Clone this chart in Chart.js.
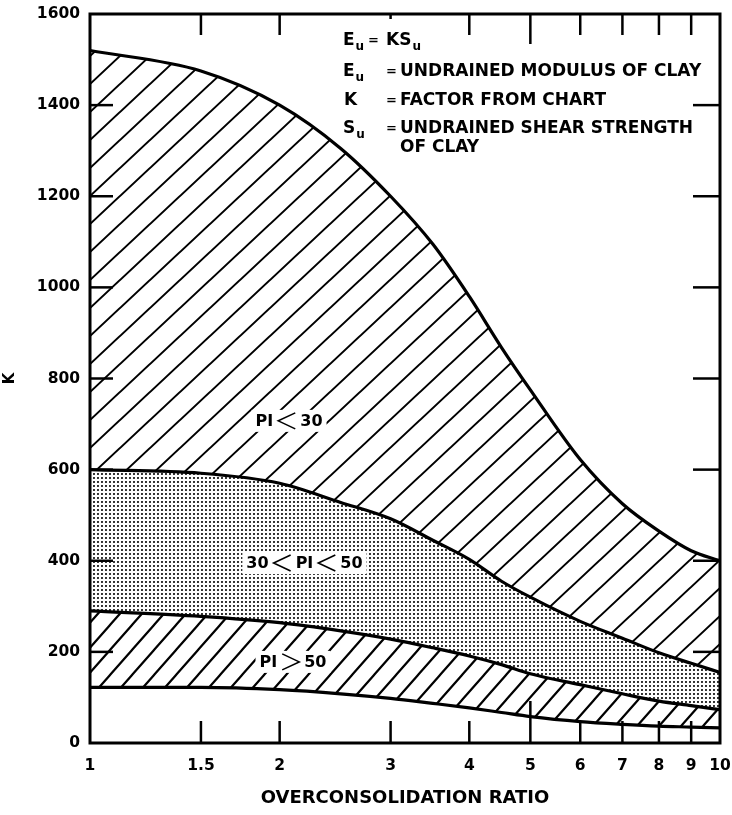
<!DOCTYPE html>
<html>
<head>
<meta charset="utf-8">
<script src="https://cdn.jsdelivr.net/npm/chart.js@4"></script>
<style>
  html, body { margin: 0; padding: 0; background: #fff; }
</style>
</head>
<body>
<canvas id="grafica" width="732" height="815"></canvas>
<script>
// Relación de sobreconsolidación (eje x, logarítmico)
const ocr = [1, 1.5, 2, 2.5, 3, 3.5, 4, 4.5, 5, 6, 7, 8, 9, 10];

// Curvas límite de K para cada franja de índice de plasticidad
const kPI30Sup = [1520, 1475, 1400, 1305, 1200, 1095, 980, 868, 775, 622, 525, 465, 422, 400];
const kPI30Inf = [600, 592, 570, 528, 492, 445, 403, 355, 320, 267, 230, 198, 175, 155];
const kPI50Sup = [290, 278, 264, 246, 228, 209, 191, 172, 152, 128, 108, 92, 82, 73];
const kPI50Inf = [122, 122, 117, 108, 98, 87, 77, 67, 58, 47, 41, 37, 35, 33];

// Marcas de los ejes
const ticksX = [1, 1.5, 2, 3, 4, 5, 6, 7, 8, 9, 10];
const ticksY = [0, 200, 400, 600, 800, 1000, 1200, 1400, 1600];

// Rótulos de cada zona (en unidades de los ejes)
const etiquetasZona = [
  { x: 2.07, y: 707, partes: ['PI', '<', '30'] },
  { x: 2.19, y: 395, partes: ['30', '<', 'PI', '<', '50'] },
  { x: 2.10, y: 178, partes: ['PI', '>', '50'] }
];

const FUENTE = 'DejaVu Sans';

// Tramas: rayado diagonal y punteado
function crearRayado(w, h, grosor) {
  const c = document.createElement('canvas');
  c.width = w; c.height = h;
  const g = c.getContext('2d');
  g.strokeStyle = '#000';
  g.lineWidth = grosor;
  g.beginPath();
  g.moveTo(-w, h); g.lineTo(w, -h);
  g.moveTo(-w, 2 * h); g.lineTo(2 * w, -h);
  g.moveTo(0, 2 * h); g.lineTo(2 * w, 0);
  g.stroke();
  return g.createPattern(c, 'repeat');
}

function crearPunteado(paso, punto) {
  const c = document.createElement('canvas');
  c.width = paso; c.height = paso;
  const g = c.getContext('2d');
  g.fillStyle = '#000';
  g.beginPath();
  g.arc(paso / 2, paso / 2, punto / 2, 0, Math.PI * 2);
  g.fill();
  return g.createPattern(c, 'repeat');
}

const ctx = document.getElementById('grafica').getContext('2d');
const rayadoSup = crearRayado(30, 28, 2);
const rayadoInf = crearRayado(22, 25, 2.2);
const punteado = crearPunteado(4, 2.1);

const puntos = serie => ocr.map((v, i) => ({ x: v, y: serie[i] }));

// Dibuja "PI < 30" con el signo como un ángulo fino
function dibujarEtiqueta(c, cx, cy, partes) {
  c.font = 'bold 16px ' + FUENTE;
  const anchoSigno = 17, sep = 5;
  let total = 0;
  partes.forEach((p, i) => {
    total += (p === '<' || p === '>') ? anchoSigno : c.measureText(p).width;
    if (i < partes.length - 1) total += sep;
  });
  c.fillStyle = '#fff';
  c.fillRect(cx - total / 2 - 4, cy - 11, total + 8, 22);
  let x = cx - total / 2;
  c.fillStyle = '#000';
  c.strokeStyle = '#000';
  c.textBaseline = 'middle';
  c.textAlign = 'left';
  partes.forEach(p => {
    if (p === '<' || p === '>') {
      c.lineWidth = 1.6;
      c.beginPath();
      if (p === '<') {
        c.moveTo(x + anchoSigno, cy - 8); c.lineTo(x, cy); c.lineTo(x + anchoSigno, cy + 8);
      } else {
        c.moveTo(x, cy - 8); c.lineTo(x + anchoSigno, cy); c.lineTo(x, cy + 8);
      }
      c.stroke();
      x += anchoSigno + sep;
    } else {
      c.fillText(p, x, cy + 1);
      x += c.measureText(p).width + sep;
    }
  });
}

// Texto con subíndice "u"
function conSubindice(c, letra, x, base) {
  c.font = 'bold 17px ' + FUENTE;
  c.fillText(letra, x, base);
  const w = c.measureText(letra).width;
  c.font = 'bold 12px ' + FUENTE;
  c.fillText('u', x + w + 1, base + 5);
}

const marcoPlugin = {
  id: 'marco',
  afterDatasetsDraw(chart) {
    const { ctx: c, scales: { x, y } } = chart;
    c.save();
    etiquetasZona.forEach(e => {
      dibujarEtiqueta(c, x.getPixelForValue(e.x), y.getPixelForValue(e.y), e.partes);
    });
    c.restore();
  },
  afterDraw(chart) {
    const { ctx: c, chartArea: a, scales: { x, y } } = chart;
    c.save();
    c.strokeStyle = '#000';
    c.lineWidth = 3;
    c.strokeRect(a.left, a.top, a.right - a.left, a.bottom - a.top);

    // marcas interiores
    c.lineWidth = 2.5;
    const linea = (x1, y1, x2, y2) => { c.beginPath(); c.moveTo(x1, y1); c.lineTo(x2, y2); c.stroke(); };
    ticksX.slice(1, -1).forEach(v => {
      const px = x.getPixelForValue(v);
      linea(px, a.bottom, px, a.bottom - (v === 5 ? 42 : 22));
      linea(px, a.top, px, a.top + (v === 5 ? 30 : v === 3 ? 5 : 21));
    });
    ticksY.slice(1, -1).forEach(v => {
      const py = y.getPixelForValue(v);
      linea(a.left, py, a.left + 23, py);
      linea(a.right, py, a.right - 27, py);
    });

    // leyenda de símbolos
    c.fillStyle = '#000';
    c.textAlign = 'left';
    c.textBaseline = 'alphabetic';
    conSubindice(c, 'E', 343, 45);
    c.font = 'bold 13px ' + FUENTE;
    c.fillText('=', 368, 44);
    conSubindice(c, 'KS', 386, 45);

    conSubindice(c, 'E', 343, 76);
    c.font = 'bold 13px ' + FUENTE;
    c.fillText('=', 386, 75);
    c.font = 'bold 17px ' + FUENTE;
    c.fillText('UNDRAINED MODULUS OF CLAY', 400, 76);

    c.fillText('K', 344, 105);
    c.font = 'bold 13px ' + FUENTE;
    c.fillText('=', 386, 104);
    c.font = 'bold 17px ' + FUENTE;
    c.fillText('FACTOR FROM CHART', 400, 105);

    conSubindice(c, 'S', 343, 133);
    c.font = 'bold 13px ' + FUENTE;
    c.fillText('=', 386, 132);
    c.font = 'bold 17px ' + FUENTE;
    c.fillText('UNDRAINED SHEAR STRENGTH', 400, 133);
    c.fillText('OF CLAY', 400, 152);
    c.restore();
  }
};

const curva = (serie, relleno, fondo) => ({
  data: puntos(serie),
  borderColor: '#000',
  borderWidth: 3.2,
  pointRadius: 0,
  cubicInterpolationMode: 'monotone',
  fill: relleno,
  backgroundColor: fondo
});

const grafica = new Chart(ctx, {
  type: 'line',
  data: {
    datasets: [
      curva(kPI30Sup, '+1', rayadoSup),
      curva(kPI30Inf, '+1', punteado),
      curva(kPI50Sup, '+1', rayadoInf),
      curva(kPI50Inf, false, 'transparent')
    ]
  },
  options: {
    responsive: false,
    animation: false,
    devicePixelRatio: 1,
    layout: { padding: { top: 14, right: 12, left: 0, bottom: 0 } },
    plugins: {
      legend: { display: false },
      tooltip: { enabled: false }
    },
    scales: {
      x: {
        type: 'logarithmic',
        min: 1,
        max: 10,
        grid: { display: false, drawTicks: false },
        border: { display: false },
        afterBuildTicks: s => { s.ticks = ticksX.map(v => ({ value: v })); },
        afterFit: s => { s.height = 72; s.paddingLeft = 0; s.paddingRight = 0; },
        ticks: {
          autoSkip: false,
          maxRotation: 0,
          padding: 14,
          color: '#000',
          font: { family: FUENTE, weight: 'bold', size: 15.5 },
          callback: v => String(v)
        },
        title: {
          display: true,
          text: 'OVERCONSOLIDATION RATIO',
          color: '#000',
          font: { family: FUENTE, weight: 'bold', size: 18 },
          padding: { top: 0, bottom: 6 }
        }
      },
      y: {
        min: 0,
        max: 1600,
        grid: { display: false, drawTicks: false },
        border: { display: false },
        afterBuildTicks: s => { s.ticks = ticksY.map(v => ({ value: v })); },
        afterFit: s => { s.width = 90; s.paddingTop = 0; s.paddingBottom = 0; },
        ticks: {
          padding: 10,
          color: '#000',
          font: { family: FUENTE, weight: 'bold', size: 15.5 },
          callback: v => String(v)
        },
        title: {
          display: true,
          text: 'K',
          color: '#000',
          font: { family: FUENTE, weight: 'bold', size: 15 },
          padding: { top: 1, bottom: 0 }
        }
      }
    }
  },
  plugins: [marcoPlugin]
});
</script>
</body>
</html>
